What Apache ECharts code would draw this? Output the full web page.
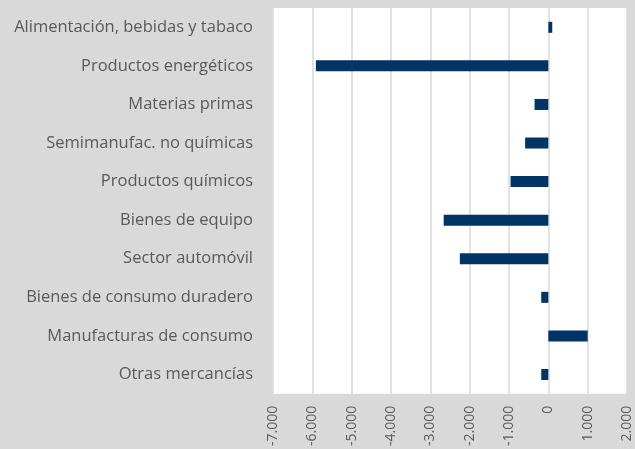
<!DOCTYPE html>
<html>
<head>
<meta charset="utf-8">
<script src="https://cdn.jsdelivr.net/npm/echarts@6/dist/echarts.min.js"></script>
<style>
  html, body { margin: 0; padding: 0; background: #d9d9d9; }
  #main { width: 635px; height: 449px; }
</style>
</head>
<body>
<div id="main"></div>
<script>
// categorias (de arriba a abajo)
var categorias = [
	"Alimentación, bebidas y tabaco",
	"Productos energéticos",
	"Materias primas",
	"Semimanufac. no químicas",
	"Productos químicos",
	"Bienes de equipo",
	"Sector automóvil",
	"Bienes de consumo duradero",
	"Manufacturas de consumo",
	"Otras mercancías"
];
// valores
var valores = [100, -5910, -350, -590, -960, -2660, -2250, -180, 1000, -180];

var ejeMin = -7000;
var ejeMax = 2000;
var ejePaso = 1000;

var myChart = echarts.init(document.getElementById("main"));

var formatoMiles = function(v) {
	var s = String(Math.abs(v)).replace(/\B(?=(\d{3})+(?!\d))/g, ".");
	return (v < 0 ? "-" : "") + s;
};

var option = {
	backgroundColor: '#d9d9d9',
	animation: false,
	grid: {
		left: 273,
		right: 8,
		top: 8,
		bottom: 54,
		show: true,
		backgroundColor: '#ffffff',
		borderWidth: 0
	},
	xAxis: {
		type: 'value',
		min: ejeMin,
		max: ejeMax,
		interval: ejePaso,
		axisLine: { show: false },
		axisTick: { show: false },
		splitLine: { lineStyle: { color: '#d9d9d9', width: 1.5 } },
		axisLabel: {
			rotate: 90,
			margin: 12,
			color: '#595959',
			fontSize: 14,
			fontFamily: 'Open Sans',
			formatter: formatoMiles
		}
	},
	yAxis: {
		type: 'category',
		inverse: true,
		data: categorias,
		axisLine: { show: false },
		axisTick: { show: false },
		axisLabel: {
			margin: 20,
			color: '#595959',
			fontSize: 16.5,
			fontFamily: 'Open Sans'
		}
	},
	series: [{
		type: 'bar',
		data: valores,
		barWidth: 11,
		itemStyle: { color: '#003366' }
	}]
};
myChart.setOption(option, true);
</script>
</body>
</html>
